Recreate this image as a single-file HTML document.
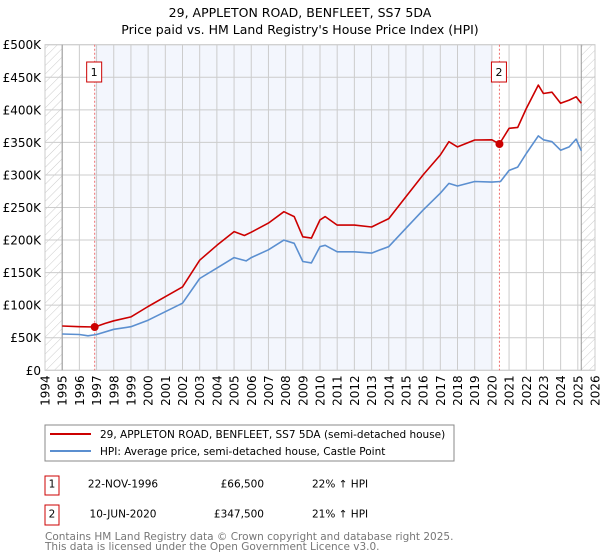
<!DOCTYPE html>
<html><head><meta charset="utf-8"><style>
body{margin:0;background:#fff;font-family:"DejaVu Sans","Liberation Sans",sans-serif;}
svg{display:block}
</style></head><body>
<svg id="c" width="600" height="560" xmlns="http://www.w3.org/2000/svg" font-family="DejaVu Sans, Liberation Sans, sans-serif">
<defs><pattern id="hatch" width="6" height="6" patternUnits="userSpaceOnUse" patternTransform="rotate(45)"><line x1="0" y1="0" x2="0" y2="6" stroke="#ccc" stroke-width="1"/></pattern></defs>
<text x="300" y="17" text-anchor="middle" font-size="12.5" fill="#000">29, APPLETON ROAD, BENFLEET, SS7 5DA</text>
<text x="300" y="34" text-anchor="middle" font-size="12.5" fill="#000">Price paid vs. HM Land Registry's House Price Index (HPI)</text>
<g id="plot"></g>
<g>
<rect x="45" y="425" width="409" height="36" fill="#fff" stroke="#888"/>
<line x1="50" y1="434" x2="91" y2="434" stroke="#cc0000" stroke-width="2"/>
<text x="100" y="438" font-size="10.5">29, APPLETON ROAD, BENFLEET, SS7 5DA (semi-detached house)</text>
<line x1="50" y1="451" x2="91" y2="451" stroke="#5b8fd0" stroke-width="2"/>
<text x="100" y="455" font-size="10.5">HPI: Average price, semi-detached house, Castle Point</text>
</g>
<g font-size="10.5">
<rect x="45" y="476" width="14" height="19" fill="#fff" stroke="#cc0000"/><text x="52" y="487.5" text-anchor="middle">1</text>
<text x="123" y="487.5" text-anchor="middle">22-NOV-1996</text><text x="264" y="487.5" text-anchor="end">£66,500</text><text x="312" y="487.5">22% ↑ HPI</text>
<rect x="45" y="505" width="14" height="20" fill="#fff" stroke="#cc0000"/><text x="52" y="517.5" text-anchor="middle">2</text>
<text x="123" y="517.5" text-anchor="middle">10-JUN-2020</text><text x="264" y="517.5" text-anchor="end">£347,500</text><text x="312" y="517.5">21% ↑ HPI</text>
</g>
<text x="45" y="540" font-size="10.5" fill="#777">Contains HM Land Registry data © Crown copyright and database right 2025.</text>
<text x="45" y="550" font-size="10.5" fill="#777">This data is licensed under the Open Government Licence v3.0.</text>
</svg>
<script>
const hpiYears=[1995,1996,1996.5,1997,1998,1999,2000,2001,2002,2003,2004,2005,2005.7,2006,2007,2007.9,2008.5,2009,2009.5,2010,2010.3,2011,2012,2013,2013.5,2014,2015,2016,2017,2017.5,2018,2019,2020,2020.5,2021,2021.5,2022,2022.7,2023,2023.5,2024,2024.5,2024.9,2025.2];
const hpiValues=[55.7,55,53,55,63,67,77,90,103,141,157,173,168,173,185,200,195,167,165,190,192,182,182,180,185,190,218,246,272,287,283,290,289,290,307,312,333,360,354,351,338,343,355,337];
const priceYears=[1995,1996,1996.9,1997.5,1998,1999,2000,2001,2002,2003,2004,2005,2005.6,2006,2007,2007.9,2008.5,2009,2009.5,2010,2010.3,2011,2012,2013,2014,2015,2016,2017,2017.5,2018,2019,2020,2020.44,2021,2021.5,2022,2022.7,2023,2023.5,2024,2024.5,2024.9,2025.2];
const priceValues=[68,67,66.5,72,76,82,98,113,128,169,192,213,207,212,226,243.5,236,205,203,231,236,223,223,220,233,266.6,300,330.6,351,343,353.6,354,347.5,371.6,373,402,438,425,427,410,415,420,410];
const saleYears=[1996.89,2020.44];
const saleValues=[66.5,347.5];
const saleLabels=["1","2"];
const yTicks=[0,50,100,150,200,250,300,350,400,450,500];
const yTickLabels=["£0","£50K","£100K","£150K","£200K","£250K","£300K","£350K","£400K","£450K","£500K"];
const xTicks=[];for(let y=1994;y<=2026;y++)xTicks.push(y);

const X0=45,X1=595,Y0=370.3,Y1=44.7;
const xs=v=>X0+(v-1994)/(2026-1994)*(X1-X0);
const ys=v=>Y0-v/500*(Y0-Y1);
const NS="http://www.w3.org/2000/svg";
const g=document.getElementById('plot');
function mk(t,a){const e=document.createElementNS(NS,t);for(const k in a)e.setAttribute(k,a[k]);g.appendChild(e);return e;}
let e;
e=mk('rect',{x:X0,y:Y1,width:X1-X0,height:Y0-Y1,fill:'#fff'});


e=mk('rect',{x:xs(saleYears[0]),y:Y1,width:xs(2020.05)-xs(saleYears[0]),height:Y0-Y1,fill:'#f3f6fd'});


e=mk('rect',{x:X0,y:Y1,width:xs(1995)-X0,height:Y0-Y1,fill:'url(#hatch)'});


e=mk('rect',{x:xs(2025.2),y:Y1,width:X1-xs(2025.2),height:Y0-Y1,fill:'url(#hatch)'});


yTicks.forEach((v,i)=>{
 e=mk('line',{x1:X0,x2:X1,y1:ys(v),y2:ys(v),stroke:'#ccc','stroke-width':1});
 
 
 e=mk('text',{x:X0-4,y:ys(v)+4.5,'text-anchor':'end','font-size':12});
 e.textContent=yTickLabels[i];
 
 
});
xTicks.forEach(v=>{
 e=mk('line',{x1:xs(v),x2:xs(v),y1:Y1,y2:Y0,stroke:'#ccc','stroke-width':1});
 
 
 e=mk('text',{x:0,y:0,'text-anchor':'end','font-size':12,transform:`translate(${xs(v)+4.5},${Y0+5}) rotate(-90)`});
 e.textContent=v;
 
 
});
e=mk('rect',{x:X0,y:Y1,width:X1-X0,height:Y0-Y1,fill:'none',stroke:'#ccc'});


[1995,2025.2].forEach(v=>{
 e=mk('line',{x1:xs(v),x2:xs(v),y1:Y1,y2:Y0,stroke:'#999','stroke-width':1});
 
 
});
saleYears.forEach((v,i)=>{
 e=mk('line',{x1:xs(v),x2:xs(v),y1:Y1,y2:Y0,stroke:'#f07070','stroke-width':1,'stroke-dasharray':'2,2'});
 
 
 e=mk('rect',{x:xs(v)-8,y:62,width:15,height:20,fill:'#fff',stroke:'#cc0000'});
 
 
 e=mk('text',{x:xs(v)-0.5,y:76,'text-anchor':'middle','font-size':11});
 e.textContent=saleLabels[i];
 
 
});
function path(xa,va){return xa.map((x,i)=>(i?'L':'M')+xs(x).toFixed(1)+','+ys(va[i]).toFixed(1)).join('');}
e=mk('path',{d:path(hpiYears,hpiValues),fill:'none',stroke:'#5b8fd0','stroke-width':1.6,'stroke-linejoin':'round'});


e=mk('path',{d:path(priceYears,priceValues),fill:'none',stroke:'#cc0000','stroke-width':1.6,'stroke-linejoin':'round'});


saleYears.forEach((v,i)=>{
 e=mk('circle',{cx:xs(v),cy:ys(saleValues[i]),r:4,fill:'#cc0000'});
 
 
});
</script>
</body></html>
